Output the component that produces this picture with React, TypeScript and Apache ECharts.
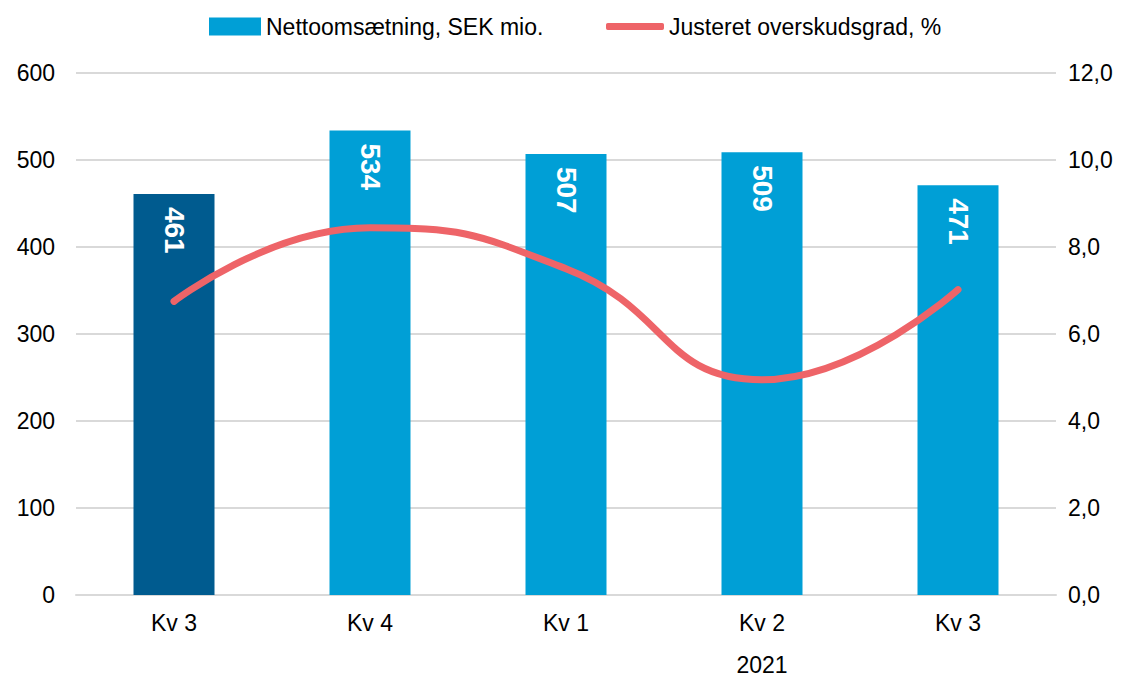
import React, { useEffect, useRef } from "react";
import * as echarts from "echarts";

const categories = ["Kv 3", "Kv 4", "Kv 1", "Kv 2", "Kv 3"];
const yearLabel = "2021";
const yearIndex = 3;
const sales = [461, 534, 507, 509, 471];
const margin = [6.75, 8.44, 7.5, 4.95, 7.02];
const barColors = ["#005b8f", "#009fd6", "#009fd6", "#009fd6", "#009fd6"];
const salesName = "Nettoomsætning, SEK mio.";
const marginName = "Justeret overskudsgrad, %";

export default function App() {
  const ref = useRef<HTMLDivElement>(null);
  useEffect(() => {
    const chart = echarts.init(ref.current!, null, { renderer: "svg" });
    const font = "Liberation Sans, Arial, sans-serif";
    const legendText = { fontSize: 23, color: "#000", fontFamily: font };
    chart.setOption({
      animation: false,
      textStyle: { fontFamily: font },
      legend: [
        {
          top: 10,
          left: 204,
          itemWidth: 52,
          itemHeight: 18,
          textStyle: legendText,
          data: [{ name: salesName, icon: "rect", itemStyle: { color: "#009fd6" } }],
        },
        {
          top: 10,
          left: 601,
          itemWidth: 58,
          itemHeight: 7,
          textStyle: legendText,
          data: [{ name: marginName, icon: "roundRect", itemStyle: { color: "#ee6468" } }],
        },
      ],
      grid: { left: 76, right: 74, top: 73, bottom: 80 },
      xAxis: {
        type: "category",
        data: categories,
        axisTick: { show: false },
        axisLine: { lineStyle: { color: "#d9d9d9", width: 2 } },
        axisLabel: {
          fontSize: 23,
          color: "#000",
          margin: 17,
          lineHeight: 21,
          formatter: (v: string, i: number) => (i === yearIndex ? v + "\n\n" + yearLabel : v),
        },
      },
      yAxis: [
        {
          type: "value",
          min: 0,
          max: 600,
          interval: 100,
          axisLabel: { fontSize: 23, color: "#000", margin: 21 },
          splitLine: { lineStyle: { color: "#d9d9d9", width: 2 } },
        },
        {
          type: "value",
          min: 0,
          max: 12,
          interval: 2,
          axisLabel: {
            fontSize: 23,
            color: "#000",
            margin: 12,
            formatter: (v: number) => v.toFixed(1).replace(".", ","),
          },
          splitLine: { show: false },
        },
      ],
      series: [
        {
          name: salesName,
          type: "bar",
          barWidth: 81,
          data: sales.map((v, i) => ({ value: v, itemStyle: { color: barColors[i] } })),
          itemStyle: { color: "#009fd6" },
          label: {
            show: true,
            position: "insideTop",
            rotate: -90,
            align: "left",
            verticalAlign: "middle",
            distance: 13,
            color: "#fff",
            fontSize: 28,
            fontWeight: "bold",
          },
        },
        {
          name: marginName,
          type: "line",
          yAxisIndex: 1,
          smooth: 0.5,
          symbol: "none",
          data: margin,
          lineStyle: { color: "#ee6468", width: 7, cap: "round" },
          itemStyle: { color: "#ee6468" },
        },
      ],
    });
    return () => chart.dispose();
  }, []);
  return (
    <div
      ref={ref}
      style={{ position: "absolute", left: 0, top: 0, width: 1130, height: 676 }}
    />
  );
}
